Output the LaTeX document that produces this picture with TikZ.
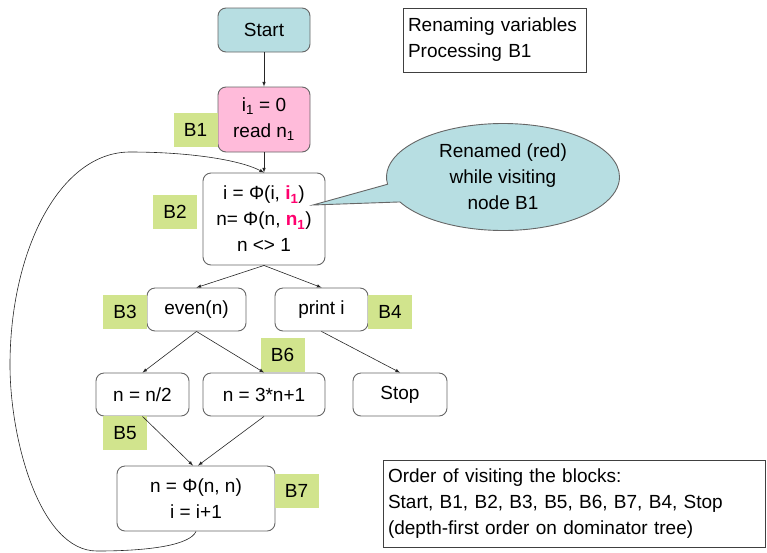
\documentclass[tikz,border=0pt]{standalone}
\usepackage{fontspec}
\setmainfont{Liberation Sans}
\usepackage{xcolor}
\usepackage{tikz}
\usetikzlibrary{calc}
\usetikzlibrary{shapes.callouts}
\definecolor{startblue}{RGB}{183,222,226}
\definecolor{blockpink}{RGB}{255,187,218}
\definecolor{tagreen}{RGB}{209,228,141}
\definecolor{hotred}{RGB}{255,0,110}

\begin{document}
\begin{tikzpicture}[x=1pt,y=-1pt,
        font=\fontsize{19}{26}\selectfont,
        block/.style={draw=black!60,line width=0.9pt,rounded corners=8pt,inner sep=0pt,align=center,fill=white},
        tag/.style={fill=tagreen,minimum width=44pt,minimum height=34pt,inner sep=0pt},
        note/.style={draw=black!75,line width=0.8pt,inner sep=0pt,align=left},
        edge/.style={draw=black!85,line width=0.6pt,-latex}]
        \useasboundingbox (0,0) rectangle (767,552);
        \node[block,fill=startblue,minimum width=92pt,minimum height=44pt] (start) at (264,30) {Start};
        \node[block,fill=blockpink,minimum width=92pt,minimum height=65pt] (b1) at (264,119.5) {i\textsubscript{1} = 0\\read n\textsubscript{1}};
        \node[block,minimum width=122pt,minimum height=92pt] (b2) at (264,219)
            {i = Φ(i, \textcolor{hotred}{\textbf{i\textsubscript{1}}})\\n= Φ(n, \textcolor{hotred}{\textbf{n\textsubscript{1}}})\\n <> 1};
        \node[block,minimum width=99pt,minimum height=43pt] (b3) at (196.5,309.5) {even(n)};
        \node[block,minimum width=93pt,minimum height=43pt] (b4) at (321.5,309.5) {print i};
        \node[block,minimum width=93pt,minimum height=43pt] (b5) at (142.5,394.5) {n = n/2};
        \node[block,minimum width=122pt,minimum height=43pt] (b6) at (264,394.5) {n = 3*n+1};
        \node[block,minimum width=94pt,minimum height=43pt] (stop) at (400,394.5) {Stop};
        \node[block,minimum width=158pt,minimum height=65pt] (b7) at (196,498.5) {n = Φ(n, n)\\i = i+1};
        \node[tag] (t1) at (195.5,129.5) {B1};
        \node[tag] (t2) at (175,212) {B2};
        \node[tag] (t3) at (125,312) {B3};
        \node[tag] (t4) at (390,312) {B4};
        \node[tag] (t5) at (125,433) {B5};
        \node[tag] (t6) at (282.5,355) {B6};
        \node[tag] (t7) at (296.5,491) {B7};
        \node[note,minimum width=183pt,minimum height=64pt,text width=173pt] (info) at (494.5,40)
            {Renaming variables\\Processing B1};
        \node[note,minimum width=382pt,minimum height=87pt,text width=372pt] (order) at (574,503.5)
            {Order of visiting the blocks:\\Start, B1, B2, B3, B5, B6, B7, B4, Stop\\(depth-first order on dominator tree)};
        \draw (313,205) coordinate (tip);
        \node[ellipse callout,draw=black!60,line width=0.9pt,fill=startblue,minimum width=233pt,minimum height=107pt,
            callout absolute pointer={(tip)},callout pointer arc=20,align=center,inner sep=0pt] (bubble) at (503,177)
            {Renamed (red)\\while visiting\\node B1};
        \draw[edge] (start)--(b1);
        \draw[edge] (b1)--(b2);
        \draw[edge] (b2.south)--(b3.north);
        \draw[edge] (b2.south)--(b4.north);
        \draw[edge] (b3.south)--(b5.north);
        \draw[edge] (b3.south)--(b6.north);
        \draw[edge] (b4.south)--(stop.north);
        \draw[edge] (b5.south)--([xshift=-3pt]b7.north);
        \draw[edge] (b6.south)--([xshift=2pt]b7.north);
        % loop back from B7 to B2
        \draw (97,551) coordinate (low) (10,365) coordinate (far) (130,152) coordinate (high);
        \draw[edge] (b7.south) .. controls (190,545) and (150,551) .. (low)
            .. controls (40,551) and (10,440) .. (far)
            .. controls (10,250) and (60,152) .. (high)
            .. controls (190,152) and (240,160) .. (b2.north);
    \end{tikzpicture}
\end{document}
